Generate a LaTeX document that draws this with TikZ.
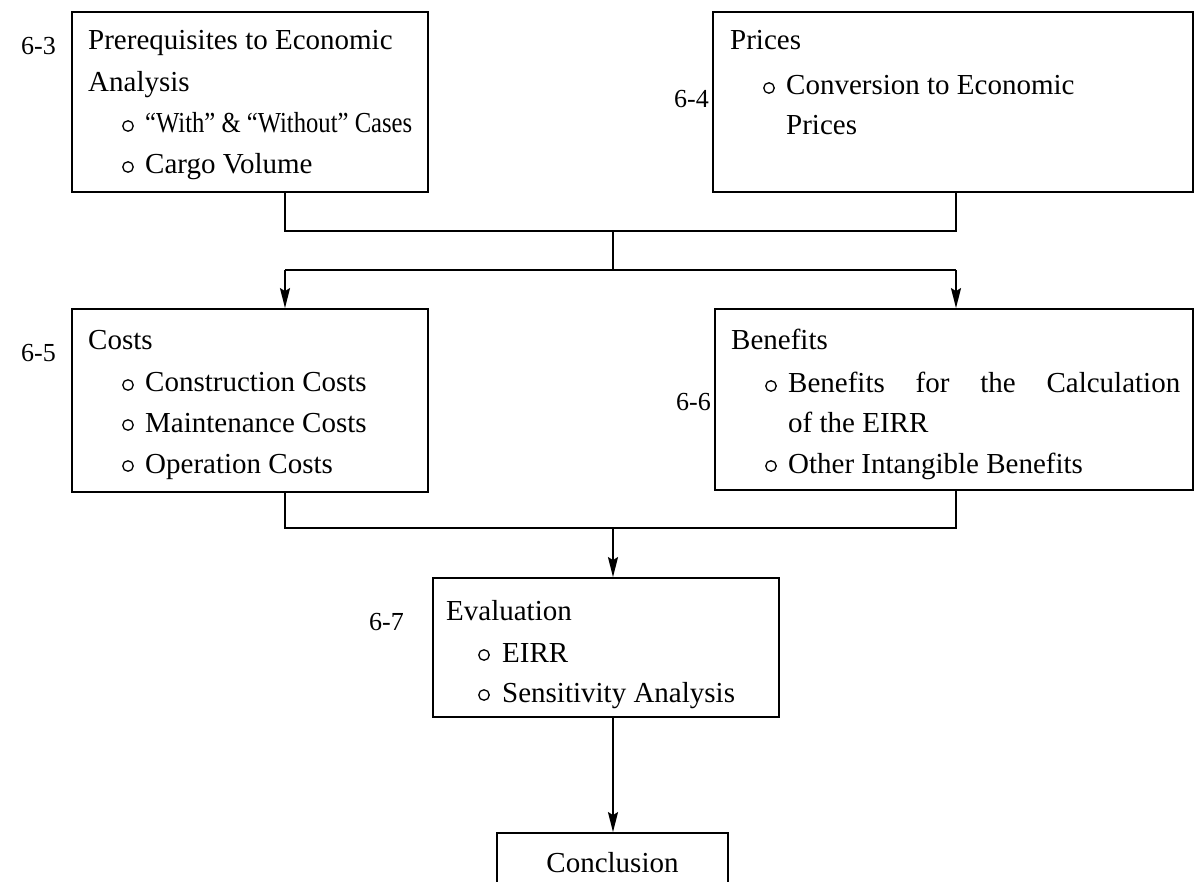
\documentclass[tikz,border=0pt]{standalone}
\usepackage{fontspec}
\setmainfont{Liberation Serif}
\usetikzlibrary{arrows.meta}
\begin{document}
\begin{tikzpicture}[x=1pt,y=-1pt,
  box/.style={draw,line width=1.8pt,inner sep=0pt},
  txt/.style={anchor=base west,inner sep=0pt,font=\fontsize{29}{34}\selectfont},
  lab/.style={anchor=base east,inner sep=0pt,font=\fontsize{26}{30}\selectfont},
  bul/.style={circle,draw,line width=1.3pt,minimum size=10.5pt,inner sep=0pt},
  conn/.style={line width=2pt},
  arr/.style={conn,-{Stealth[length=20pt,width=10pt,inset=3pt]}}]
\useasboundingbox (0,0) rectangle (1197,882);
\clip (0,0) rectangle (1197,882);
% boxes
\node[box,minimum width=356pt,minimum height=180pt] (b1) at (250,102) {};
\node[box,minimum width=480pt,minimum height=180pt] (b2) at (953,102) {};
\node[box,minimum width=356pt,minimum height=183pt] (b3) at (250,400.5) {};
\node[box,minimum width=478pt,minimum height=181pt] (b4) at (954,399.5) {};
\node[box,minimum width=346pt,minimum height=139pt] (b5) at (606,647.5) {};
\node[box,minimum width=231pt,minimum height=77pt] (b6) at (612.5,871.5) {};
% box 1
\node[lab] (l63) at (56,55) {6-3};
\node[txt] (t11) at (88,50) {Prerequisites to Economic};
\node[txt] (t12) at (88,92) {Analysis};
\node[bul] (u11) at (128,126) {};
\node[txt] (t13) at (145,133) {\scalebox{0.85}[1]{“With” \& “Without” Cases}};
\node[bul] (u12) at (128,167) {};
\node[txt] (t14) at (145,174) {Cargo Volume};
% box 2
\node[lab] (l64) at (709,108) {6-4};
\node[txt] (t21) at (730,50) {Prices};
\node[bul] (u21) at (769,88) {};
\node[txt] (t22) at (786,95) {Conversion to Economic};
\node[txt] (t23) at (786,135) {Prices};
% box 3
\node[lab] (l65) at (56,362) {6-5};
\node[txt] (t31) at (88,350) {Costs};
\node[bul] (u31) at (128,385) {};
\node[txt] (t32) at (145,392) {Construction Costs};
\node[bul] (u32) at (128,425) {};
\node[txt] (t33) at (145,432) {Maintenance Costs};
\node[bul] (u33) at (128,466) {};
\node[txt] (t34) at (145,473) {Operation Costs};
% box 4
\node[lab] (l66) at (711,410) {6-6};
\node[txt] (t41) at (731,350) {Benefits};
\node[bul] (u41) at (771,386) {};
\node[txt] (t42) at (788,393) {\makebox[392pt][s]{Benefits for the Calculation}};
\node[txt] (t43) at (788,433) {of the EIRR};
\node[bul] (u42) at (771,466) {};
\node[txt] (t44) at (788,473) {Other Intangible Benefits};
% box 5
\node[lab] (l67) at (404,630) {6-7};
\node[txt] (t51) at (446,620) {Evaluation};
\node[bul] (u51) at (484,655) {};
\node[txt] (t52) at (502,662) {EIRR};
\node[bul] (u52) at (484,695) {};
\node[txt] (t53) at (502,702) {Sensitivity Analysis};
% box 6
\node[txt,anchor=base] (t61) at (612.5,872) {Conclusion};
% connectors
\coordinate (cl) at (285,231);
\coordinate (cr) at (956,231);
\coordinate (cm) at (613,231);
\coordinate (dm) at (613,270);
\coordinate (dl) at (285,270);
\coordinate (dr) at (956,270);
\coordinate (el) at (285,528);
\coordinate (er) at (956,528);
\coordinate (em) at (613,528);
\draw[conn] (b1.south -| cl) -- (cl) -- (cr) -- (b2.south -| cr);
\draw[conn] (cm) -- (dm);
\draw[conn] (dl) -- (dr);
\draw[arr] (dl) -- (b3.north -| dl);
\draw[arr] (dr) -- (b4.north -| dr);
\draw[conn] (b3.south -| el) -- (el) -- (er) -- (b4.south -| er);
\draw[arr] (em) -- (b5.north -| em);
\draw[arr] (b5.south -| em) -- (b6.north -| em);
\end{tikzpicture}
\end{document}
